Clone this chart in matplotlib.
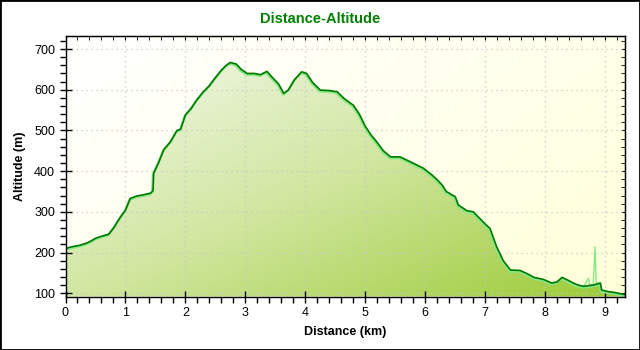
import numpy as np
import matplotlib
matplotlib.use('Agg')
import matplotlib.pyplot as plt
import matplotlib.transforms as mtransforms
from matplotlib.colors import LinearSegmentedColormap
from matplotlib.patches import Rectangle

plt.rcParams['font.family'] = ['Liberation Sans', 'DejaVu Sans']

# Elevation profile (km, m)
dist_km = [0.00, 0.10, 0.24, 0.33, 0.41, 0.50, 0.60, 0.72, 0.80, 0.92,
           1.00, 1.08, 1.19, 1.30, 1.42, 1.46, 1.47, 1.55, 1.64, 1.75,
           1.86, 1.92, 2.00, 2.10, 2.19, 2.30, 2.40, 2.47, 2.60, 2.68,
           2.75, 2.85, 2.93, 3.03, 3.15, 3.25, 3.36, 3.45, 3.55, 3.64,
           3.72, 3.82, 3.94, 4.02, 4.12, 4.25, 4.40, 4.53, 4.65, 4.80,
           4.90, 5.00, 5.10, 5.19, 5.30, 5.42, 5.58, 5.75, 5.97, 6.10,
           6.19, 6.28, 6.35, 6.50, 6.55, 6.69, 6.80, 6.92, 7.00, 7.08,
           7.19, 7.30, 7.42, 7.58, 7.70, 7.81, 7.97, 8.11, 8.20, 8.28,
           8.38, 8.47, 8.55, 8.64, 8.80, 8.92, 8.94, 9.05, 9.15, 9.25,
           9.32]
alt_m = [210, 214, 218, 222, 227, 235, 240, 245, 260, 288,
         304, 333, 339, 342, 346, 352, 395, 420, 453, 472,
         500, 503, 538, 555, 575, 595, 610, 624, 648, 660,
         667, 663, 650, 640, 640, 637, 645, 630, 615, 591,
         600, 625, 644, 640, 618, 599, 598, 595, 578, 562,
         540, 510, 488, 472, 450, 435, 435, 423, 407, 392,
         380, 366, 350, 337, 317, 303, 300, 282, 270, 259,
         214, 180, 157, 156, 148, 139, 134, 125, 128, 139,
         132, 125, 120, 117, 120, 125, 108, 104, 102, 99,
         97]

# raw GPS glitch near the end (light trace only)
spike_km = [8.64, 8.67, 8.72, 8.74, 8.80, 8.83, 8.85, 8.92]
spike_m = [117, 124, 137, 120, 120, 214, 125, 125]

x_ticks = [0, 1, 2, 3, 4, 5, 6, 7, 8, 9]
y_ticks = [100, 200, 300, 400, 500, 600, 700]
x_lim = (0, 9.33)
y_lim = (92, 732)

fig = plt.figure(figsize=(6.4, 3.5), dpi=100)
ax = fig.add_axes([65.5 / 640, 1 - 296.5 / 350, 559.5 / 640, 260.5 / 350])

# background: white (top left) -> pale yellow gradient
xx, yy = np.meshgrid(np.linspace(0, 1, 200), np.linspace(0, 1, 120))
bg_cmap = LinearSegmentedColormap.from_list('bg', ['#ffffff', '#ffffee', '#ffffd8'])
ax.imshow(0.6 * xx + 0.4 * yy, cmap=bg_cmap, extent=[*x_lim, *y_lim],
          origin='upper', aspect='auto', zorder=0, vmin=0, vmax=1)

# area fill: diagonal gradient, clipped to the profile
fill = ax.fill_between(dist_km, alt_m, y_lim[0], color='none', zorder=1)
fill_cmap = LinearSegmentedColormap.from_list('fill', ['#f8faf4', '#d2e7a2', '#9ccb36'])
grad = ax.imshow(0.5 * xx + 0.5 * yy, cmap=fill_cmap, extent=[*x_lim, *y_lim],
                 origin='upper', aspect='auto', zorder=1, vmin=0, vmax=1)
grad.set_clip_path(fill.get_paths()[0], transform=ax.transData)

ax.set_xlim(*x_lim)
ax.set_ylim(*y_lim)

# traces: light raw line slightly under the dark smoothed one
shift = mtransforms.offset_copy(ax.transData, fig=fig, x=-0.7, y=-1.2, units='dots')
ax.plot(dist_km, alt_m, color='#86e886', lw=1.8, zorder=2, transform=shift)
ax.plot(spike_km, spike_m, color='#86e886', lw=1.0, zorder=2)
ax.plot(dist_km, alt_m, color='#007800', lw=1.2, zorder=3)

# grid
ax.set_xticks(x_ticks)
ax.set_yticks(y_ticks)
ax.set_xticks(np.arange(0, 9.4, 0.2), minor=True)
ax.set_yticks(np.arange(100, 731, 20), minor=True)
ax.grid(True, which='major', color='#c8c8c8', linestyle=(0, (1, 3)), linewidth=0.9)
for gl in ax.get_xgridlines() + ax.get_ygridlines():
    gl.set_zorder(0.5)

ax.tick_params(which='major', direction='inout', length=9, width=1, labelsize=9, colors='black', pad=3)
ax.tick_params(which='minor', direction='out', length=4, width=1)
for s in ax.spines.values():
    s.set_linewidth(1)
    s.set_zorder(4)

# top/right ticks point inward
top = ax.secondary_xaxis('top')
top.set_xticks(x_ticks)
top.set_xticks(np.arange(0, 9.4, 0.2), minor=True)
top.tick_params(which='both', direction='in', length=3, labeltop=False)
right = ax.secondary_yaxis('right')
right.set_yticks(y_ticks)
right.set_yticks(np.arange(100, 731, 20), minor=True)
right.tick_params(which='both', direction='in', length=3, labelright=False)

ax.set_xlabel('Distance (km)', fontsize=9, fontweight='bold', labelpad=5)
ax.set_ylabel('Altitude (m)', fontsize=9, fontweight='bold', labelpad=6)
fig.text(0.5, 1 - 19 / 350, 'Distance-Altitude', ha='center', va='center',
         fontsize=10.5, fontweight='bold', color='#008000')

fig.patches.append(Rectangle((0, 0), 1, 1, transform=fig.transFigure, fill=False,
                             edgecolor='black', linewidth=2))

fig.savefig('out.png', dpi=100, facecolor='white')
